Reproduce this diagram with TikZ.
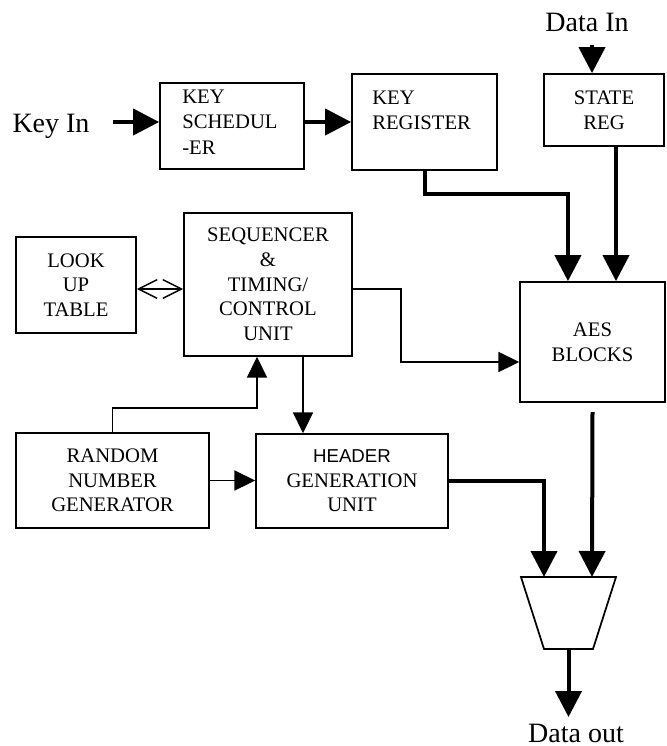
\documentclass[tikz,border=0pt]{standalone}
\usepackage{fontspec}
\setmainfont{Liberation Serif}
\newfontfamily\hfont{Liberation Sans}
\usetikzlibrary{arrows.meta}
\begin{document}
\begin{tikzpicture}[x=0.75pt,y=-0.75pt,
  blk/.style={draw, line width=1.3pt, inner sep=0pt},
  btxt/.style={font=\fontsize{15.5}{18.5}\selectfont, align=center, inner sep=0pt},
  ltxt/.style={font=\fontsize{15.5}{19}\selectfont, align=left, inner sep=0pt, anchor=west},
  lbl/.style={font=\fontsize{21}{24}\selectfont, inner sep=0pt, anchor=base},
  thk/.style={line width=3pt, -{Triangle[length=19.5pt,width=19.5pt]}},
  thn/.style={line width=1.3pt, -{Triangle[length=15.5pt,width=15pt]}},
  dbl/.style={line width=1.1pt, {Straight Barb[length=14pt,width=14pt]}-{Straight Barb[length=14pt,width=14pt]}},
  ]
\useasboundingbox (0,0) rectangle (667,746);
% labels
\node[lbl] (keyin) at (51,132) {Key In};
\node[lbl] (datain) at (587,31.5) {Data In};
\node[lbl] (dataout) at (576,742) {Data out};
% blocks
\node[blk, minimum width=108pt, minimum height=64.5pt] (ks) at (232,126) {};
\node[ltxt] (kstxt) at (182,122) {KEY\\SCHEDUL\\-ER};
\node[blk, minimum width=108.75pt, minimum height=72pt] (kr) at (424.5,122) {};
\node[ltxt] (krtxt) at (372,110) {KEY\\REGISTER};
\node[blk, btxt, minimum width=90pt, minimum height=54pt] (sr) at (604,110) {STATE\\REG};
\node[blk, btxt, minimum width=90pt, minimum height=72pt] (lut) at (76,285) {LOOK\\UP\\TABLE};
\node[blk, btxt, minimum width=126pt, minimum height=107.25pt] (seq) at (268,284.5) {SEQUENCER\\\&\\TIMING/\\CONTROL\\UNIT};
\node[blk, btxt, minimum width=108.75pt, minimum height=90pt] (aes) at (592.5,342) {AES\\BLOCKS};
\node[blk, btxt, minimum width=144.75pt, minimum height=71.25pt] (rng) at (112.5,480.5) {RANDOM\\NUMBER\\GENERATOR};
\node[blk, btxt, minimum width=144pt, minimum height=70.5pt] (hdr) at (352,481) {{\hfont\fontsize{14}{18.5}\selectfont HEADER}\\GENERATION\\UNIT};
% mux
\draw[line width=1.3pt] (521,577) coordinate (m1) -- (616,577) coordinate (m2) -- (593,649) coordinate (m3) -- (544,649) coordinate (m4) -- cycle;
\coordinate (mi1) at (544,577);
\coordinate (mi2) at (592,577);
\coordinate (mo) at (568.5,649);
\coordinate (dout) at (568.5,717);
\coordinate (kin) at (113,122);
\coordinate (din) at (592,45);
% connectors
\draw[thk] (kin) -- (kin -| ks.west);
\draw[thk] (ks.east |- kr.west) -- (kr.west);
\draw[thk] (din) -- (din |- sr.north);
\draw[thk] (kr.south) -- ++(0,23) -| ([xshift=-18.4pt]aes.north);
\draw[thk] ([xshift=9pt]sr.south) -- ([xshift=9pt]sr.south |- aes.north);
\draw[dbl] ([yshift=-3pt]lut.east) -- ([yshift=-3pt]lut.east -| seq.west);
\draw[thn] ([yshift=-3.4pt]seq.east) -- ++(48,0) |- ([yshift=-15pt]aes.west);
\draw[thn] ([xshift=26.25pt]seq.south) -- ([xshift=26.25pt]seq.south |- hdr.north);
\draw[thn] (rng.north) -- ++(0,-24) -| ([xshift=-8.25pt]seq.south);
\draw[thn] (rng.east) -- (rng.east -| hdr.west);
\draw[thk] (hdr.east) -| (mi1);
\draw[thk] ([yshift=-7pt]aes.south) -- (mi2);
\draw[thk] (mo) -- (dout);
\end{tikzpicture}
\end{document}
